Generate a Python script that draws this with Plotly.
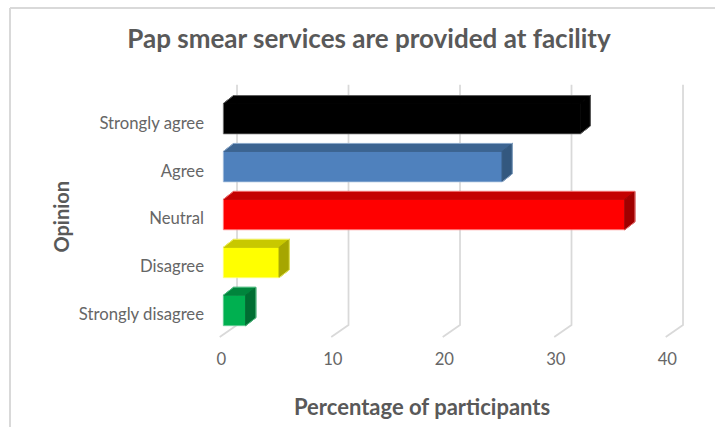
import plotly.graph_objects as go

# Survey responses, bottom row first
categories = ["Strongly disagree", "Disagree", "Neutral", "Agree", "Strongly agree"]
percentages = [2, 5, 36, 25, 32]
front_colors = ["#00B050", "#FFFF00", "#FF0000", "#4F81BD", "#000000"]
top_colors = ["#00853C", "#C8C800", "#C40000", "#3C6491", "#000000"]
side_colors = ["#006E32", "#A6A600", "#A00000", "#33587F", "#000000"]
edge_colors = ["#66D096", "#FFFF80", "#FF9090", "#A8C0DE", "#808080"]
x_ticks = [0, 10, 20, 30, 40]

WIDTH, HEIGHT = 715, 427
LEFT, RIGHT, TOP, BOTTOM = 210, 700, 80, 345

# Linear axes: 11.15 px per percentage point, 47.94 px per row
X_RANGE = [(LEFT - 223.3) / 11.15, (RIGHT - 223.3) / 11.15]
Y_RANGE = [(310.5 - BOTTOM) / 47.94, (310.5 - TOP) / 47.94]

HALF_BAR = 0.317      # half the height of a bar's front face
DEPTH_X = 0.92        # oblique depth of a bar, in axis units
DEPTH_Y = 0.167
GRID_BACK_X = 1.23    # offset of the back wall from the front plane
GRID_FOOT_X = -0.32
GRID_BACK_Y = -0.302
GRID_FOOT_Y = -0.553
GRID_TOP_Y = 4.71

FONT = "Lato, Carlito, sans-serif"
GREY = "#595959"
TICK_GREY = "#666666"
LINE = "#D9D9D9"


def paper_x(px):
    return (px - LEFT) / (RIGHT - LEFT)


def paper_y(py):
    return (BOTTOM - py) / (BOTTOM - TOP)


fig = go.Figure()

# Floor and back-wall gridlines sit beneath every trace
for t in x_ticks:
    bx, fx = t + GRID_BACK_X, t + GRID_FOOT_X
    fig.add_shape(type="path", xref="x", yref="y", layer="below",
                  path=f"M {bx} {GRID_TOP_Y} L {bx} {GRID_BACK_Y} L {fx} {GRID_FOOT_Y}",
                  line=dict(color=LINE, width=1.75))

# Front faces
fig.add_trace(go.Bar(
    x=percentages, y=list(range(len(categories))), orientation="h",
    width=2 * HALF_BAR, marker=dict(color=front_colors, line=dict(width=0)),
    showlegend=False,
))

# Oblique top and side faces, then a thin outline round each whole bar
for i, v in enumerate(percentages):
    lo, hi = i - HALF_BAR, i + HALF_BAR
    faces = [
        ([0, DEPTH_X, v + DEPTH_X, v, 0],
         [hi, hi + DEPTH_Y, hi + DEPTH_Y, hi, hi], top_colors[i]),
        ([v, v + DEPTH_X, v + DEPTH_X, v, v],
         [hi, hi + DEPTH_Y, lo + DEPTH_Y, lo, hi], side_colors[i]),
    ]
    for xs, ys, color in faces:
        fig.add_trace(go.Scatter(
            x=xs, y=ys, mode="lines", fill="toself", fillcolor=color,
            line=dict(color=color, width=1),
            hoverinfo="skip", showlegend=False,
        ))
    fig.add_trace(go.Scatter(
        x=[0, 0, DEPTH_X, v + DEPTH_X, v + DEPTH_X, v, 0],
        y=[lo, hi, hi + DEPTH_Y, hi + DEPTH_Y, lo + DEPTH_Y, lo, lo],
        mode="lines", line=dict(color=edge_colors[i], width=0.75),
        hoverinfo="skip", showlegend=False,
    ))

# Chart-area border along the left and top edges
fig.add_shape(type="line", xref="paper", yref="paper", layer="below",
              x0=paper_x(10), x1=paper_x(10), y0=paper_y(8), y1=paper_y(HEIGHT),
              line=dict(color=LINE, width=2))
fig.add_shape(type="line", xref="paper", yref="paper", layer="below",
              x0=paper_x(10), x1=paper_x(WIDTH), y0=paper_y(8), y1=paper_y(8),
              line=dict(color=LINE, width=2))

# Axis titles are placed directly so they can sit off the plot centre
fig.add_annotation(text="<b>Percentage of participants</b>", xref="paper", yref="paper",
                   x=paper_x(422), y=paper_y(406), xanchor="center", yanchor="middle",
                   showarrow=False, font=dict(size=22, color=GREY, family=FONT))
fig.add_annotation(text="<b>Opinion</b>", xref="paper", yref="paper", textangle=-90,
                   x=paper_x(60), y=paper_y(216.5), xanchor="center", yanchor="middle",
                   showarrow=False, font=dict(size=20, color=GREY, family=FONT))

fig.update_layout(
    width=WIDTH, height=HEIGHT,
    margin=dict(l=LEFT, r=WIDTH - RIGHT, t=TOP, b=HEIGHT - BOTTOM, autoexpand=False),
    paper_bgcolor="white", plot_bgcolor="white",
    font=dict(family=FONT, color=GREY),
    title=dict(text="<b>Pap smear services are provided at facility</b>",
               x=369 / WIDTH, xanchor="center", y=1 - 39 / HEIGHT, yanchor="middle",
               font=dict(size=26, color=GREY, family=FONT)),
    xaxis=dict(range=X_RANGE, tickvals=x_ticks, showgrid=False, zeroline=False,
               showline=False, ticks="", tickfont=dict(size=16.7, color=TICK_GREY),
               ticklabelstandoff=2, ticklabelshift=-2),
    yaxis=dict(range=Y_RANGE, tickvals=list(range(len(categories))), ticktext=categories,
               showgrid=False, zeroline=False, showline=False, ticks="",
               tickfont=dict(size=16.7, color=TICK_GREY), ticklabelshift=4,
               ticklabelstandoff=5),
)

fig.write_html("out.html", config=dict(displayModeBar=False))
